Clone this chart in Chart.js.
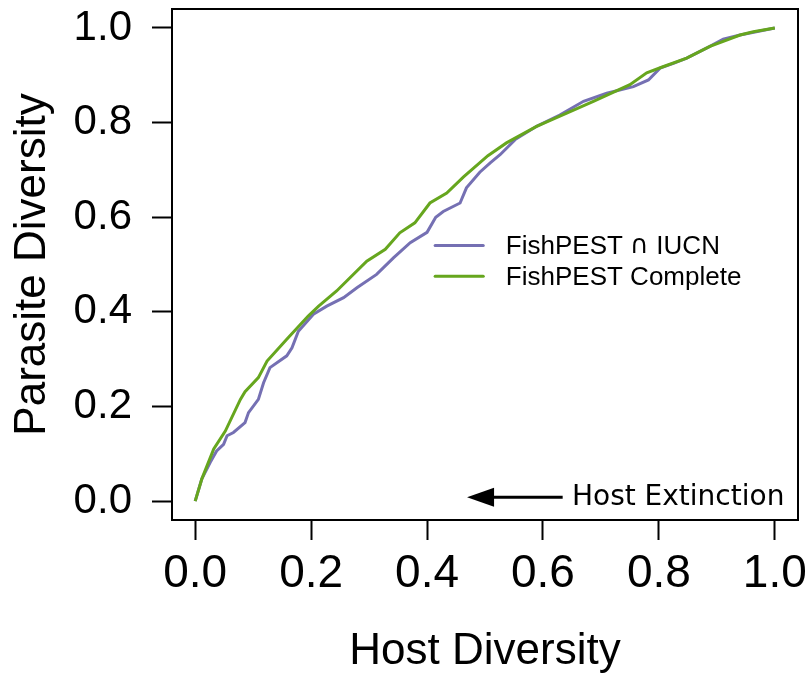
<!DOCTYPE html>
<html>
<head>
<meta charset="utf-8">
<script src="https://cdn.jsdelivr.net/npm/chart.js@4.4.0/dist/chart.umd.min.js"></script>
<style>
  html, body { margin: 0; padding: 0; background: #fff; }
  #wrap { width: 811px; height: 676px; }
</style>
</head>
<body>
<div id="wrap"><canvas id="c" width="811" height="676"></canvas></div>
<script>
// ---- Data ----
const seriesNames = ["FishPEST \u2229 IUCN", "FishPEST Complete"];
const seriesColors = ["#7570B3", "#66A61E"];

const iucnX = [0, 0.0115, 0.026, 0.037, 0.049, 0.055, 0.066, 0.086, 0.092, 0.109, 0.118, 0.129, 0.158, 0.167, 0.178, 0.204, 0.227, 0.256, 0.279, 0.313, 0.342, 0.371, 0.400, 0.415, 0.428, 0.457, 0.468, 0.491, 0.509, 0.526, 0.552, 0.589, 0.629, 0.670, 0.710, 0.756, 0.782, 0.802, 0.825, 0.848, 0.888, 0.911, 0.940, 1.0];
const iucnY = [0, 0.047, 0.082, 0.106, 0.120, 0.138, 0.145, 0.166, 0.187, 0.215, 0.250, 0.282, 0.307, 0.324, 0.359, 0.395, 0.412, 0.430, 0.451, 0.479, 0.514, 0.546, 0.568, 0.600, 0.612, 0.630, 0.662, 0.695, 0.715, 0.732, 0.764, 0.792, 0.816, 0.845, 0.862, 0.876, 0.890, 0.915, 0.925, 0.936, 0.961, 0.976, 0.985, 1.0];

const completeX = [0, 0.0115, 0.032, 0.052, 0.078, 0.086, 0.109, 0.124, 0.158, 0.195, 0.213, 0.244, 0.296, 0.328, 0.353, 0.379, 0.405, 0.434, 0.463, 0.505, 0.537, 0.589, 0.641, 0.687, 0.750, 0.779, 0.807, 0.848, 0.888, 0.940, 0.963, 1.0];
const completeY = [0, 0.047, 0.110, 0.148, 0.215, 0.231, 0.261, 0.296, 0.342, 0.391, 0.412, 0.444, 0.507, 0.532, 0.567, 0.588, 0.630, 0.651, 0.685, 0.730, 0.757, 0.792, 0.820, 0.845, 0.880, 0.905, 0.918, 0.936, 0.961, 0.985, 0.992, 1.0];

const xTickValues = [0, 0.2, 0.4, 0.6, 0.8, 1.0];
const xTickLabels = ["0.0", "0.2", "0.4", "0.6", "0.8", "1.0"];
const yTickValues = [0, 0.2, 0.4, 0.6, 0.8, 1.0];
const yTickLabels = ["0.0", "0.2", "0.4", "0.6", "0.8", "1.0"];
const xTitle = "Host Diversity";
const yTitle = "Parasite Diversity";
const annotationText = "Host Extinction";

// ---- Build ----
const toPts = (xs, ys) => xs.map((x, i) => ({ x: x, y: ys[i] }));
const SANS = '"Liberation Sans", Arial, sans-serif';
const SYM = '"DejaVu Sans", sans-serif';

// draw a string, rendering the intersection sign with a font that has a full-size glyph
function drawMixed(ctx, str, x, y, size) {
  const parts = str.split(/(\u2229)/);
  let cx = x;
  parts.forEach(p => {
    if (!p) return;
    ctx.font = (p === '\u2229' ? size + 'px ' + SYM : size + 'px ' + SANS);
    ctx.fillText(p, cx, y);
    cx += ctx.measureText(p).width;
  });
}

const decor = {
  id: 'decor',
  afterDatasetsDraw(chart) {
    const { ctx, chartArea: a, scales: { x, y } } = chart;
    ctx.save();
    // box
    ctx.strokeStyle = '#000';
    ctx.lineWidth = 2;
    ctx.strokeRect(a.left, a.top, a.right - a.left, a.bottom - a.top);

    // legend
    const lx0 = x.getPixelForValue(0.414), lx1 = x.getPixelForValue(0.497);
    const tx = x.getPixelForValue(0.536);
    const rows = [y.getPixelForValue(0.540), y.getPixelForValue(0.475)];
    ctx.textBaseline = 'middle';
    ctx.textAlign = 'left';
    ctx.lineCap = 'round';
    rows.forEach((ry, i) => {
      ctx.strokeStyle = seriesColors[i];
      ctx.lineWidth = 3;
      ctx.beginPath(); ctx.moveTo(lx0, ry); ctx.lineTo(lx1, ry); ctx.stroke();
      ctx.fillStyle = '#000';
      drawMixed(ctx, seriesNames[i], tx, ry + 1, 26);
    });

    // arrow annotation
    const ay = y.getPixelForValue(0.008);
    const tip = x.getPixelForValue(0.469);
    const tail = x.getPixelForValue(0.634);
    ctx.strokeStyle = '#000';
    ctx.fillStyle = '#000';
    ctx.lineCap = 'butt';
    ctx.lineWidth = 3;
    ctx.beginPath(); ctx.moveTo(tip + 20, ay); ctx.lineTo(tail, ay); ctx.stroke();
    ctx.beginPath();
    ctx.moveTo(tip, ay);
    ctx.lineTo(tip + 27, ay - 9.5);
    ctx.lineTo(tip + 27, ay + 9.5);
    ctx.closePath(); ctx.fill();
    ctx.font = '28px ' + SYM;
    ctx.textBaseline = 'middle';
    ctx.fillText(annotationText, x.getPixelForValue(0.650), ay);
    ctx.restore();
  }
};

new Chart(document.getElementById('c'), {
  type: 'line',
  data: {
    datasets: [
      { label: seriesNames[0], data: toPts(iucnX, iucnY), borderColor: seriesColors[0], borderWidth: 3, pointRadius: 0, tension: 0, fill: false, order: 1 },
      { label: seriesNames[1], data: toPts(completeX, completeY), borderColor: seriesColors[1], borderWidth: 3, pointRadius: 0, tension: 0, fill: false, order: 0 }
    ]
  },
  options: {
    responsive: false,
    animation: false,
    layout: { padding: { top: 9, right: 13, left: 0, bottom: 0 } },
    plugins: { legend: { display: false }, tooltip: { enabled: false } },
    scales: {
      x: {
        type: 'linear', min: -0.04, max: 1.04,
        afterBuildTicks: s => { s.ticks = xTickValues.map(v => ({ value: v })); },
        afterFit: s => { s.height = 156; s.paddingLeft = 0; s.paddingRight = 0; },
        ticks: {
          callback: (v, i) => xTickLabels[i],
          color: '#000', padding: 7, maxRotation: 0, autoSkip: false,
          font: { family: SANS, size: 46 }
        },
        grid: { display: true, drawOnChartArea: false, drawTicks: true, tickLength: 20, tickWidth: 2, tickColor: '#000' },
        border: { display: false },
        title: { display: true, text: xTitle, color: '#000', padding: { top: 0, bottom: 2 },
                 font: { family: SANS, size: 44, lineHeight: 1 } }
      },
      y: {
        type: 'linear', min: -0.04, max: 1.04,
        afterBuildTicks: s => { s.ticks = yTickValues.map(v => ({ value: v })); },
        afterFit: s => { s.width = 172; s.paddingTop = 0; s.paddingBottom = 0; },
        ticks: {
          callback: (v, i) => yTickLabels[i],
          color: '#000', padding: 20, autoSkip: false,
          font: { family: SANS, size: 42 }
        },
        grid: { display: true, drawOnChartArea: false, drawTicks: true, tickLength: 20, tickWidth: 2, tickColor: '#000' },
        border: { display: false },
        title: { display: true, text: yTitle, color: '#000', padding: { top: 11, bottom: 0 },
                 font: { family: SANS, size: 44, lineHeight: 1 } }
      }
    }
  },
  plugins: [decor]
});
</script>
</body>
</html>
